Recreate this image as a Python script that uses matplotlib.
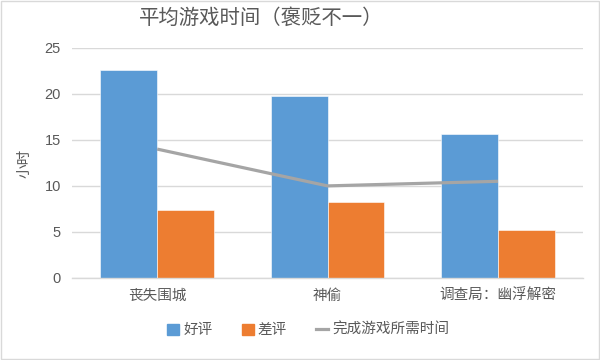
import numpy as np
import matplotlib.pyplot as plt
from matplotlib.patches import Rectangle
from matplotlib.lines import Line2D

plt.rcParams['font.family'] = ['Liberation Sans', 'Noto Sans CJK SC', 'DejaVu Sans']

# datos
categorias = ['丧失围城', '神偷', '调查局：幽浮解密']
buenas = [22.6, 19.8, 15.6]
malas = [7.4, 8.2, 5.2]
tiempo_completar = [14.0, 10.0, 10.5]
series = ['好评', '差评', '完成游戏所需时间']

azul = '#5B9BD5'
naranja = '#ED7D31'
gris = '#A5A5A5'
texto = '#595959'

fig = plt.figure(figsize=(6, 3.6), dpi=100)
ax = fig.add_axes([0.12, 0.228, 0.852, 0.639])

x = np.arange(len(categorias))
w = 0.333
ax.bar(x - w / 2, buenas, width=w, color=azul, edgecolor='white', linewidth=0.4, zorder=2)
ax.bar(x + w / 2, malas, width=w, color=naranja, edgecolor='white', linewidth=0.4, zorder=2)
ax.plot(x, tiempo_completar, color=gris, linewidth=2.3, solid_capstyle='butt', zorder=3)

ax.set_xlim(-0.5, len(categorias) - 0.5)
ax.set_ylim(0, 25)
ax.set_yticks(range(0, 26, 5))
ax.yaxis.grid(True, color='#D9D9D9', linewidth=1)
ax.set_axisbelow(True)
for s in ['top', 'right', 'left']:
    ax.spines[s].set_visible(False)
ax.spines['bottom'].set_color('#D9D9D9')
ax.spines['bottom'].set_linewidth(1)
ax.tick_params(length=0, labelsize=10.5, labelcolor=texto, pad=8)
ax.set_xticks(x)
ax.set_xticklabels(categorias)
ax.set_ylabel('小时', color=texto, fontsize=10.5, labelpad=9)

fig.text(0.436, 0.95, '平均游戏时间（褒贬不一）', ha='center', va='center',
         fontsize=14.7, color=texto)

handles = [Rectangle((0, 0), 1, 1, color=azul),
           Rectangle((0, 0), 1, 1, color=naranja),
           Line2D([0], [0], color=gris, linewidth=2.3)]
fig.legend(handles, series, loc='center', bbox_to_anchor=(0.514, 0.083), ncol=3,
           frameon=False, fontsize=10.5, labelcolor=texto, handlelength=0.8,
           handleheight=0.8, handletextpad=0.3, columnspacing=2.0)

fig.add_artist(Rectangle((0.001, 0.002), 0.997, 0.995, transform=fig.transFigure,
                         fill=False, edgecolor='#D9D9D9', linewidth=1))

fig.savefig('out.png', dpi=100)
